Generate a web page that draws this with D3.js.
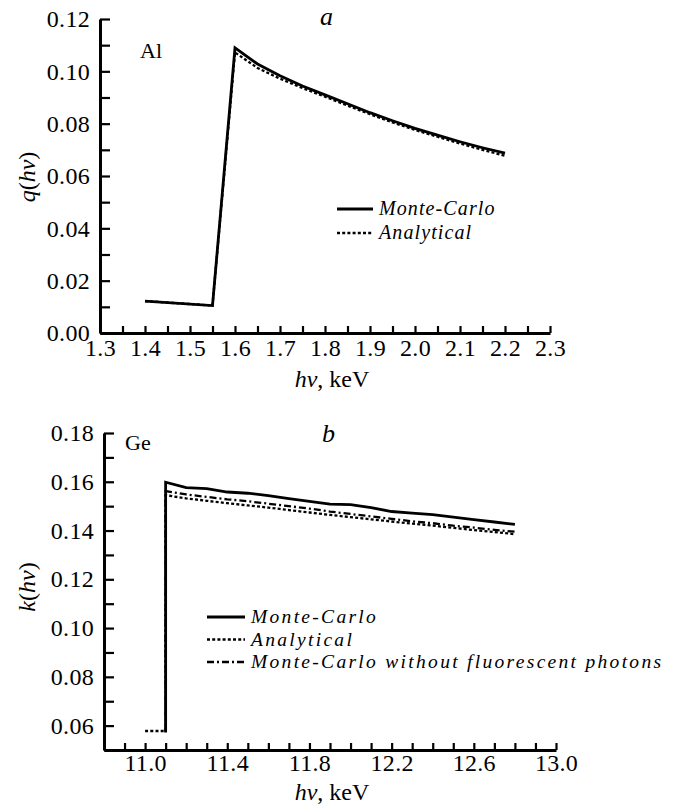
<!DOCTYPE html>
<html><head><meta charset="utf-8">
<script src="https://cdn.jsdelivr.net/npm/d3@7"></script>
<style>
body{margin:0;background:#fff}
text{font-family:"Liberation Serif","Times New Roman",serif;fill:#000}
</style>
</head><body>
<svg id="c" width="677" height="808"></svg>
<script>
// ---------- Panel a (Al) ----------
const alX          = [1.4, 1.55, 1.6, 1.65, 1.7, 1.75, 1.8, 1.85, 1.9, 1.95, 2.0, 2.05, 2.1, 2.15, 2.2];
const alMonteCarlo = [0.0122, 0.0105, 0.1090, 0.1028, 0.0983, 0.0944, 0.0910, 0.0876, 0.0842, 0.0811, 0.0782, 0.0756, 0.0731, 0.0708, 0.0687];
const alAnalytical = [0.0122, 0.0105, 0.1072, 0.1013, 0.0972, 0.0936, 0.0903, 0.0869, 0.0836, 0.0805, 0.0776, 0.0750, 0.0724, 0.0700, 0.0677];
const alXTickLabels = ["1.3","1.4","1.5","1.6","1.7","1.8","1.9","2.0","2.1","2.2","2.3"];
const alYTickLabels = ["0.00","0.02","0.04","0.06","0.08","0.10","0.12"];

// ---------- Panel b (Ge) ----------
const geMcX   = [11.1, 11.1, 11.2, 11.3, 11.4, 11.5, 11.6, 11.7, 11.8, 11.9, 12.0, 12.1, 12.2, 12.3, 12.4, 12.5, 12.6, 12.7, 12.8];
const geMc    = [0.0572, 0.1598, 0.1576, 0.1572, 0.1558, 0.1553, 0.1543, 0.1531, 0.1520, 0.1508, 0.1506, 0.1494, 0.1478, 0.1471, 0.1465, 0.1455, 0.1445, 0.1435, 0.1425];
const geAnX   = [11.0, 11.1, 11.1, 11.2, 11.3, 11.4, 11.5, 11.6, 11.7, 11.8, 11.9, 12.0, 12.1, 12.2, 12.3, 12.4, 12.5, 12.6, 12.7, 12.8];
const geAn    = [0.0578, 0.0578, 0.1545, 0.1532, 0.1522, 0.1512, 0.1503, 0.1494, 0.1484, 0.1474, 0.1464, 0.1455, 0.1446, 0.1437, 0.1428, 0.1420, 0.1411, 0.1402, 0.1394, 0.1385];
const geNfX   = [11.1, 11.1, 11.2, 11.3, 11.4, 11.5, 11.6, 11.7, 11.8, 11.9, 12.0, 12.1, 12.2, 12.3, 12.4, 12.5, 12.6, 12.7, 12.8];
const geNf    = [0.0575, 0.1562, 0.1548, 0.1538, 0.1528, 0.1520, 0.1510, 0.1500, 0.1490, 0.1478, 0.1468, 0.1458, 0.1448, 0.1438, 0.1430, 0.1420, 0.1412, 0.1403, 0.1395];
const geXTickLabels = ["11.0","11.4","11.8","12.2","12.6","13.0"];
const geYTickLabels = ["0.06","0.08","0.10","0.12","0.14","0.16","0.18"];

const legendA = ["Monte-Carlo", "Analytical"];
const legendB = ["Monte-Carlo", "Analytical", "Monte-Carlo without fluorescent photons"];

const svg = d3.select("#c");
const FS = 24;
const dashes = {solid: null, dotted: "3,2.2", dashdot: "7,3,2,3"};

function minorTicks(a, b, step) {
  const n = Math.round((b - a) / step);
  return d3.range(n + 1).map(i => +(a + i * step).toFixed(4));
}

function panel(cfg) {
  const g = svg.append("g");
  const x = d3.scaleLinear().domain(cfg.xDomain).range(cfg.xRange);
  const y = d3.scaleLinear().domain(cfg.yDomain).range(cfg.yRange);

  const xAxis = d3.axisBottom(x)
    .tickValues(minorTicks(cfg.xDomain[0], cfg.xDomain[1], cfg.xStep))
    .tickSizeInner(-cfg.xTick).tickSizeOuter(0).tickPadding(cfg.xPad)
    .tickFormat(d => { const m = cfg.xLabels.find(s => Math.abs(+s - d) < 1e-6); return m || ""; });
  const yAxis = d3.axisLeft(y)
    .tickValues(minorTicks(cfg.yDomain[0], cfg.yDomain[1], 0.01))
    .tickSizeInner(-cfg.yTick).tickSizeOuter(0).tickPadding(10)
    .tickFormat(d => { const m = cfg.yLabels.find(s => Math.abs(+s - d) < 1e-6); return m || ""; });

  const gx = g.append("g").attr("transform", `translate(0,${cfg.yRange[0]})`).call(xAxis);
  const gy = g.append("g").attr("transform", `translate(${cfg.xRange[0]},0)`).call(yAxis);
  [gx, gy].forEach(a => {
    a.selectAll("path.domain").attr("stroke", "#000").attr("stroke-width", 3);
    a.selectAll(".tick line").attr("stroke", "#000").attr("stroke-width", 2.2);
    a.selectAll(".tick text").attr("font-size", FS).attr("font-family", "Liberation Serif").attr("fill", "#000").attr("letter-spacing", 0.3);
  });
  gx.selectAll(".tick text").attr("dy", "0.8em");

  const line = d3.line().x(d => x(d[0])).y(d => y(d[1]));
  cfg.series.forEach(s => {
    g.append("path").datum(d3.zip(s.x, s.y))
      .attr("d", line).attr("fill", "none").attr("stroke", "#000")
      .attr("stroke-width", s.w).attr("stroke-dasharray", dashes[s.style])
      .attr("stroke-linejoin", "miter");
  });

  // legend
  cfg.legend.items.forEach((it, i) => {
    const ly = cfg.legend.y + i * cfg.legend.dy;
    g.append("line").attr("x1", cfg.legend.x).attr("x2", cfg.legend.x + cfg.legend.len)
      .attr("y1", ly).attr("y2", ly).attr("stroke", "#000")
      .attr("stroke-width", it.w).attr("stroke-dasharray", dashes[it.style]);
    g.append("text").attr("x", cfg.legend.x + cfg.legend.len + 6).attr("y", ly + 6)
      .attr("font-size", cfg.legend.fs).attr("font-style", "italic").attr("letter-spacing", cfg.legend.ls)
      .text(it.label);
  });

  // y label (rotated)
  const yl = g.append("text").attr("transform", `translate(${cfg.yLabel.x},${cfg.yLabel.y}) rotate(-90)`)
    .attr("text-anchor", "middle").attr("font-size", FS);
  yl.append("tspan").attr("font-style", "italic").text(cfg.yLabel.f);
  yl.append("tspan").text("(");
  yl.append("tspan").attr("font-style", "italic").text("hν");
  yl.append("tspan").text(")");

  // x label
  const xl = g.append("text").attr("x", cfg.xLabel.x).attr("y", cfg.xLabel.y)
    .attr("text-anchor", "middle").attr("font-size", FS);
  xl.append("tspan").attr("font-style", "italic").text("hν");
  xl.append("tspan").text(", keV");

  g.append("text").attr("x", cfg.tag.x).attr("y", cfg.tag.y).attr("font-size", FS + 2).attr("font-style", "italic").text(cfg.tag.t);
  g.append("text").attr("x", cfg.el.x).attr("y", cfg.el.y).attr("font-size", 22).text(cfg.el.t);
}

panel({
  xDomain: [1.3, 2.3], xRange: [100, 550], xStep: 0.05, xTick: 7, xPad: 4,
  yDomain: [0, 0.12], yRange: [333, 19], yTick: 10,
  xLabels: alXTickLabels, yLabels: alYTickLabels,
  series: [
    {x: alX, y: alAnalytical, style: "dotted", w: 2.3},
    {x: alX, y: alMonteCarlo, style: "solid", w: 2.8}
  ],
  legend: {x: 337, y: 209, dy: 24, len: 36, ls: 1.1, fs: 20, items: [
    {label: legendA[0], style: "solid", w: 2.8},
    {label: legendA[1], style: "dotted", w: 2.3}
  ]},
  yLabel: {x: 35, y: 177, f: "q"},
  xLabel: {x: 332, y: 387},
  tag: {x: 320, y: 25, t: "a"},
  el: {x: 140, y: 58, t: "Al"}
});

panel({
  xDomain: [10.8, 13.0], xRange: [104, 556], xStep: 0.1, xTick: 7, xPad: 2,
  yDomain: [0.05, 0.18], yRange: [750, 433], yTick: 10,
  xLabels: geXTickLabels, yLabels: geYTickLabels,
  series: [
    {x: geAnX, y: geAn, style: "dotted", w: 2.3},
    {x: geNfX, y: geNf, style: "dashdot", w: 2.3},
    {x: geMcX, y: geMc, style: "solid", w: 2.8}
  ],
  legend: {x: 207, y: 617, dy: 22.5, len: 38, ls: 2.3, fs: 19.5, items: [
    {label: legendB[0], style: "solid", w: 2.8},
    {label: legendB[1], style: "dotted", w: 2.3},
    {label: legendB[2], style: "dashdot", w: 2.3}
  ]},
  yLabel: {x: 35, y: 587, f: "k"},
  xLabel: {x: 332, y: 800},
  tag: {x: 322, y: 442, t: "b"},
  el: {x: 125, y: 450, t: "Ge"}
});
</script>
</body></html>
